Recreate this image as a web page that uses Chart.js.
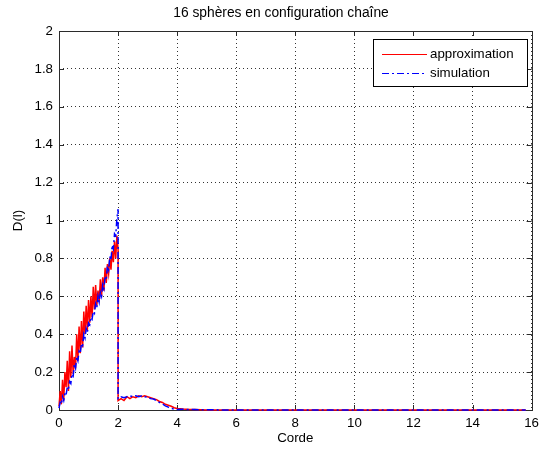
<!DOCTYPE html>
<html>
<head>
<meta charset="utf-8">
<script src="https://cdn.jsdelivr.net/npm/chart.js@4"></script>
<style>
  html, body { margin: 0; padding: 0; background: #fff; }
  #wrap { width: 544px; height: 452px; }
</style>
</head>
<body>
<div id="wrap"><canvas id="graphe" width="544" height="452"></canvas></div>
<script>
const titre = '16 sphères en configuration chaîne';
const labelX = 'Corde';
const labelY = 'D(l)';
const noms = ['approximation', 'simulation'];

const corde = [0, 0.04, 0.08, 0.12, 0.16, 0.2, 0.24, 0.28, 0.32, 0.36, 0.4, 0.44, 0.48, 0.52, 0.56, 0.6, 0.64,
  0.68, 0.72, 0.76, 0.8, 0.84, 0.88, 0.92, 0.96, 1, 1.04, 1.08, 1.12, 1.16, 1.2, 1.24, 1.28, 1.32, 1.36, 1.4,
  1.44, 1.48, 1.52, 1.56, 1.6, 1.64, 1.68, 1.72, 1.76, 1.8, 1.84, 1.88, 1.92, 1.96, 2,
  2, 2.1, 2.2, 2.3, 2.4, 2.5, 2.6, 2.7, 2.8, 2.9, 3, 3.1, 3.2, 3.3, 3.4, 3.5, 3.6, 3.7, 3.8, 3.9, 4,
  4.2, 4.4, 4.6, 4.8, 5, 6, 8, 10, 12, 14, 15.8];

const approximation = [0.02, 0.1, 0.03, 0.16, 0.05, 0.2, 0.12, 0.26, 0.1, 0.31, 0.17, 0.34, 0.19, 0.28, 0.22, 0.4, 0.26,
  0.44, 0.3, 0.47, 0.33, 0.52, 0.4, 0.55, 0.42, 0.58, 0.46, 0.6, 0.49, 0.65, 0.53, 0.66, 0.55, 0.63, 0.57, 0.69,
  0.6, 0.7, 0.63, 0.75, 0.67, 0.77, 0.72, 0.8, 0.74, 0.84, 0.78, 0.89, 0.8, 0.92, 0.85,
  0.05, 0.06, 0.05, 0.07, 0.06, 0.07, 0.065, 0.075, 0.07, 0.075, 0.07, 0.065, 0.06, 0.055, 0.045, 0.04, 0.03, 0.025, 0.02, 0.012, 0.008,
  0.005, 0.003, 0.002, 0.001, 0, 0, 0, 0, 0, 0, 0];

const simulation = [0.01, 0.04, 0.03, 0.07, 0.05, 0.09, 0.08, 0.12, 0.11, 0.15, 0.14, 0.19, 0.18, 0.24, 0.22, 0.28, 0.26,
  0.31, 0.3, 0.35, 0.34, 0.4, 0.38, 0.43, 0.41, 0.46, 0.45, 0.49, 0.48, 0.52, 0.51, 0.56, 0.54, 0.6, 0.57, 0.62,
  0.6, 0.66, 0.64, 0.7, 0.69, 0.76, 0.74, 0.81, 0.79, 0.87, 0.85, 0.93, 0.92, 1.01, 1.06,
  0.06, 0.07, 0.065, 0.07, 0.075, 0.07, 0.075, 0.07, 0.075, 0.07, 0.068, 0.06, 0.058, 0.05, 0.04, 0.032, 0.022, 0.015, 0.008, 0.005, 0.003,
  0.004, 0.002, 0.002, 0.001, 0.001, 0, 0, 0, 0, 0, 0];

const ticksX = [0, 2, 4, 6, 8, 10, 12, 14, 16];
const ticksY = [0, 0.2, 0.4, 0.6, 0.8, 1, 1.2, 1.4, 1.6, 1.8, 2];

const police = '"Liberation Sans", Arial, Helvetica, sans-serif';
const couleurs = ['#ff0000', '#0000ff'];
const tirets = [[], [7, 3, 2, 3]];

function points(ys) {
  return corde.map((x, i) => ({ x: x, y: ys[i] }));
}

function texteTick(v) {
  return String(Math.round(v * 10) / 10);
}

// cadre + graduations vers l'intérieur, comme MATLAB
const cadre = {
  id: 'cadre',
  beforeDatasetsDraw(chart) {
    const { ctx, chartArea: a, scales } = chart;
    ctx.save();
    ctx.strokeStyle = '#2b2b2b';
    ctx.lineWidth = 1;
    ctx.setLineDash([]);
    ctx.strokeRect(Math.round(a.left) + 0.5, Math.round(a.top) + 0.5,
      Math.round(a.right - a.left), Math.round(a.bottom - a.top));
    ctx.beginPath();
    ticksX.forEach(v => {
      const px = Math.round(scales.x.getPixelForValue(v)) + 0.5;
      ctx.moveTo(px, a.bottom); ctx.lineTo(px, a.bottom - 5);
      ctx.moveTo(px, a.top); ctx.lineTo(px, a.top + 5);
    });
    ticksY.forEach(v => {
      const py = Math.round(scales.y.getPixelForValue(v)) + 0.5;
      ctx.moveTo(a.left, py); ctx.lineTo(a.left + 5, py);
      ctx.moveTo(a.right, py); ctx.lineTo(a.right - 5, py);
    });
    ctx.stroke();
    // titre
    ctx.fillStyle = '#000';
    ctx.font = '13.8px ' + police;
    ctx.textAlign = 'center';
    ctx.textBaseline = 'middle';
    ctx.fillText(titre, 281, 13);
    ctx.restore();
  }
};

// légende encadrée en haut à droite
const legende = {
  id: 'legende',
  afterDraw(chart) {
    const { ctx } = chart;
    const x0 = 373.5, y0 = 39.5, w = 154, h = 47;
    ctx.save();
    ctx.fillStyle = '#fff';
    ctx.fillRect(x0, y0, w, h);
    ctx.strokeStyle = '#000';
    ctx.lineWidth = 1;
    ctx.strokeRect(x0, y0, w, h);
    ctx.font = '13.3px ' + police;
    ctx.textBaseline = 'middle';
    ctx.fillStyle = '#000';
    noms.forEach((nom, i) => {
      const y = 54.5 + i * 19;
      ctx.strokeStyle = couleurs[i];
      ctx.setLineDash(tirets[i]);
      ctx.beginPath();
      ctx.moveTo(382, y); ctx.lineTo(427, y);
      ctx.stroke();
      ctx.setLineDash([]);
      ctx.fillText(nom, 430, y);
    });
    ctx.restore();
  }
};

new Chart(document.getElementById('graphe'), {
  type: 'line',
  data: {
    datasets: [
      { label: noms[0], data: points(approximation), borderColor: couleurs[0], borderWidth: 1.5, pointRadius: 0, tension: 0, clip: 3, order: 2 },
      { label: noms[1], data: points(simulation), borderColor: couleurs[1], borderWidth: 1.5, borderDash: tirets[1], pointRadius: 0, tension: 0, clip: 3, order: 1 }
    ]
  },
  options: {
    responsive: false,
    animation: false,
    layout: { padding: { left: 0, right: 8, top: 31, bottom: 0 } },
    plugins: {
      legend: { display: false },
      tooltip: { enabled: false },
      title: { display: false }
    },
    scales: {
      x: {
        type: 'linear',
        min: 0, max: 16,
        afterBuildTicks: s => { s.ticks = ticksX.map(v => ({ value: v })); },
        afterFit: s => { s.height = 42; },
        grid: { color: '#333', lineWidth: 1, drawTicks: false },
        border: { display: false, dash: [1, 3] },
        ticks: { color: '#000', padding: 5, maxRotation: 0, callback: texteTick, font: { family: police, size: 13.3 } },
        title: { display: true, text: labelX, color: '#000', padding: { top: 6, bottom: 6 }, font: { family: police, size: 13.3 } }
      },
      y: {
        min: 0, max: 2,
        afterBuildTicks: s => { s.ticks = ticksY.map(v => ({ value: v })); },
        afterFit: s => { s.width = 59; },
        grid: { color: '#333', lineWidth: 1, drawTicks: false },
        border: { display: false, dash: [1, 3] },
        ticks: { color: '#000', padding: 6, callback: texteTick, font: { family: police, size: 13.3 } },
        title: { display: true, text: labelY, color: '#000', padding: { top: 10, bottom: 10 }, font: { family: police, size: 13.3 } }
      }
    }
  },
  plugins: [cadre, legende]
});
</script>
</body>
</html>
